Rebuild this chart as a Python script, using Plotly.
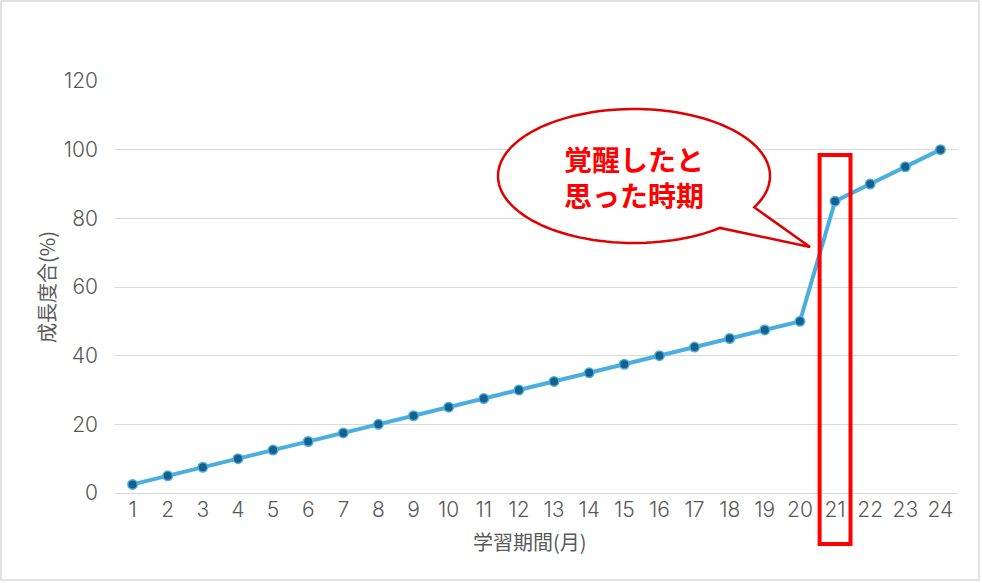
import numpy as np
import plotly.graph_objects as go

months = list(range(1, 25))
growth = [2.5, 5, 7.5, 10, 12.5, 15, 17.5, 20, 22.5, 25, 27.5, 30,
          32.5, 35, 37.5, 40, 42.5, 45, 47.5, 50, 85, 90, 95, 100]
y_ticks = [0, 20, 40, 60, 80, 100, 120]
x_title = "学習期間(月)"
y_title = "成長度合(%)"
callout_text = "覚醒したと<br>思った時期"
highlight_month = 21

W, H = 982, 583
L, R, T, B = 115, 24, 81, 90
PW, PH = W - L - R, H - T - B

def px_to_paper(px, py):
    return (px - L) / PW, (H - B - py) / PH

FONT = "Noto Sans CJK JP, Noto Sans, sans-serif"
NUMFONT = "Inter, Noto Sans CJK JP, sans-serif"
GRAY = "#595959"

fig = go.Figure()
fig.add_trace(go.Scatter(
    x=months, y=growth, mode="lines+markers",
    line=dict(color="#4aafdf", width=4),
    marker=dict(size=9.5, color="#16608c", line=dict(color="#4aafdf", width=1.5)),
    showlegend=False, cliponaxis=False, hoverinfo="skip",
))

# callout bubble path (pixel geometry converted to paper coords)
cx, cy, rx, ry = 634, 176, 136, 67
tip = (810, 247)
a0, a1 = np.deg2rad(27.9), np.deg2rad(50.8)
angs = np.linspace(a1, a0 + 2 * np.pi, 120)
pts = [(cx + rx * np.cos(a0), cy + ry * np.sin(a0)), tip]
pts += [(cx + rx * np.cos(a), cy + ry * np.sin(a)) for a in angs]
path = "M " + " L ".join("%.5f,%.5f" % px_to_paper(x, y) for x, y in pts) + " Z"

shapes = []
fx0, fy0 = px_to_paper(1, 580)
fx1, fy1 = px_to_paper(979, 1)
shapes.append(dict(type="rect", xref="paper", yref="paper", x0=fx0, x1=fx1, y0=fy0, y1=fy1,
                   line=dict(color="#d9d9d9", width=1.5), layer="below"))
hx0 = (highlight_month - 1 + 0.06) / 24
hx1 = (highlight_month - 0.06) / 24
_, hy1 = px_to_paper(0, 155)
_, hy0 = px_to_paper(0, 544)
shapes.append(dict(type="rect", xref="paper", yref="paper", x0=hx0, x1=hx1, y0=hy0, y1=hy1,
                   line=dict(color="#ff0000", width=4), fillcolor="rgba(0,0,0,0)"))
shapes.append(dict(type="path", xref="paper", yref="paper", path=path,
                   line=dict(color="#e00000", width=2.5), fillcolor="white"))

tx, ty = px_to_paper(634, 177)
xtx, xty = px_to_paper(530, 541)
fig.update_layout(
    width=W, height=H,
    margin=dict(l=L, r=R, t=T, b=B, autoexpand=False),
    paper_bgcolor="white", plot_bgcolor="white",
    font=dict(family=FONT, color=GRAY, size=20),
    shapes=shapes,
    annotations=[
        dict(xref="paper", yref="paper", x=tx, y=ty, text=callout_text,
             showarrow=False, font=dict(family=FONT, size=28, color="#ff0000", weight="bold"),
             align="center", xanchor="center", yanchor="middle"),
        dict(xref="paper", yref="paper", x=xtx, y=xty, text=x_title,
             showarrow=False, font=dict(family=FONT, size=20, color=GRAY),
             xanchor="center", yanchor="middle"),
    ],
    xaxis=dict(range=[0.5, 24.5], tickmode="array", tickvals=months,
               ticktext=[str(m) for m in months], showgrid=False, zeroline=False,
               showline=False, ticks="", ticklabelstandoff=2,
               tickfont=dict(family=NUMFONT, size=21, color=GRAY, weight=300)),
    yaxis=dict(range=[0, 120], tickvals=y_ticks, showgrid=True, gridcolor="#d9d9d9", gridwidth=1,
               zeroline=True, zerolinecolor="#d9d9d9", zerolinewidth=1, showline=False, ticks="",
               tickfont=dict(family=NUMFONT, size=21, color=GRAY, weight=300), ticklabelstandoff=16,
               title=dict(text=y_title, font=dict(family=FONT, size=20, color=GRAY), standoff=2)),
)
fig.write_html("out.html", config={"displayModeBar": False},
               post_script="document.body.style.margin='0';document.body.style.overflow='hidden';")
